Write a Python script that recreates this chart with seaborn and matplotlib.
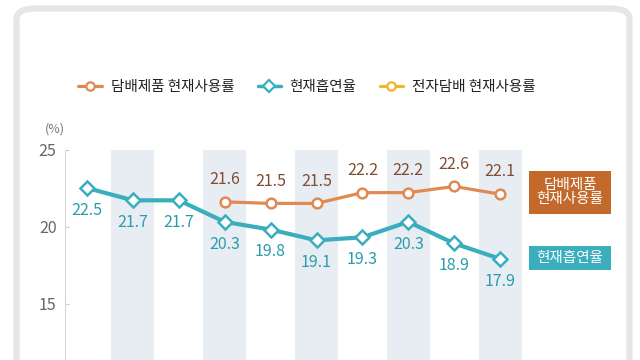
import numpy as np
import pandas as pd
import matplotlib
matplotlib.use("Agg")
import matplotlib.pyplot as plt
import seaborn as sns
from matplotlib.lines import Line2D
from matplotlib.patches import Rectangle, FancyBboxPatch

# --- data ---
years = [2013, 2014, 2015, 2016, 2017, 2018, 2019, 2020, 2021, 2022]
smoking_rate = [22.5, 21.7, 21.7, 20.3, 19.8, 19.1, 19.3, 20.3, 18.9, 17.9]
tobacco_use = [np.nan, np.nan, np.nan, 21.6, 21.5, 21.5, 22.2, 22.2, 22.6, 22.1]
series_names = ["담배제품 현재사용률", "현재흡연율", "전자담배 현재사용률"]
yticks = [15, 20, 25]

ORANGE = "#E08A52"
ORANGE_TXT = "#7E4E33"
ORANGE_BOX = "#C4692C"
TEAL = "#3AAEBD"
TEAL_TXT = "#2A9DAD"
YELLOW = "#EDB62C"
BAND = "#E8ECF3"

df = pd.DataFrame({"year": years, "smoking": smoking_rate, "tobacco": tobacco_use})

sns.set_theme(style="white")
plt.rcParams["font.family"] = ["Liberation Sans Narrow", "Noto Sans CJK KR", "DejaVu Sans"]

fig = plt.figure(figsize=(6.4, 3.6), dpi=100)

# card frame
frame = FancyBboxPatch((16.5 / 640, -0.2), 613 / 640, (360 - 8.5) / 360 + 0.2,
                       boxstyle="round,pad=0,rounding_size=0.03",
                       transform=fig.transFigure, facecolor="white",
                       edgecolor="#E6E6E6", linewidth=4.5, zorder=-5)
fig.patches.append(frame)

spacing = 45.9
x0_px = 87
ax = fig.add_axes([65 / 640, 0, (640 - 65) / 640, 1 - 149.5 / 360])
ax.set_zorder(2)
ax.set_facecolor("none")
ax.set_xlim(years[0] - (x0_px - 65) / spacing, years[0] + (640 - x0_px) / spacing)
ax.set_ylim(25 - (360 - 149.5) / 15.4, 25)

# shaded columns every other year
for i, yr in enumerate(years):
    if i % 2 == 1:
        ax.axvspan(yr - 0.47, yr + 0.47, color=BAND, lw=0, zorder=0)

sns.lineplot(data=df, x="year", y="tobacco", ax=ax, color=ORANGE, lw=2.3,
             marker="o", markersize=7, markerfacecolor="white",
             markeredgecolor=ORANGE, markeredgewidth=1.8, zorder=3)
sns.lineplot(data=df, x="year", y="smoking", ax=ax, color=TEAL, lw=3,
             marker="D", markersize=7, markerfacecolor="white",
             markeredgecolor=TEAL, markeredgewidth=1.8, zorder=4)

for yr, v in zip(years, tobacco_use):
    if not np.isnan(v):
        ax.annotate(f"{v:.1f}", (yr, v), xytext=(0, 16), textcoords="offset points",
                    ha="center", va="center", fontsize=11.5, color=ORANGE_TXT)
for yr, v in zip(years, smoking_rate):
    ax.annotate(f"{v:.1f}", (yr, v), xytext=(0, -16), textcoords="offset points",
                ha="center", va="center", fontsize=11.5, color=TEAL_TXT)

ax.set_xlabel("")
ax.set_ylabel("")
ax.set_xticks([])
ax.set_yticks(yticks)
ax.tick_params(axis="y", direction="in", length=3, width=0.8, color="#CFCFCF",
               labelsize=11.5, labelcolor="#666666", pad=6, left=True)
for s in ["top", "right", "bottom"]:
    ax.spines[s].set_visible(False)
ax.spines["left"].set_color("#D6D6D6")
ax.spines["left"].set_linewidth(0.8)

fig.text(45 / 640, 1 - 129 / 360, "(%)", fontsize=9, color="#777777", va="center")

# right-side series tags
fig.add_artist(Rectangle((529 / 640, 1 - 214 / 360), 82 / 640, 43 / 360,
                         transform=fig.transFigure, color=ORANGE_BOX, lw=0, zorder=3))
fig.text(570 / 640, 1 - 192.5 / 360, "담배제품\n현재사용률", ha="center", va="center",
         color="white", fontsize=10.5, linespacing=1.0, zorder=4)
fig.add_artist(Rectangle((529 / 640, 1 - 270 / 360), 82 / 640, 24 / 360,
                         transform=fig.transFigure, color=TEAL, lw=0, zorder=3))
fig.text(570 / 640, 1 - 258 / 360, "현재흡연율", ha="center", va="center",
         color="white", fontsize=10.5, zorder=4)

handles = [
    Line2D([], [], color=ORANGE, lw=2.3, marker="o", markersize=6,
           markerfacecolor="white", markeredgecolor=ORANGE, markeredgewidth=1.6),
    Line2D([], [], color=TEAL, lw=2.5, marker="D", markersize=6,
           markerfacecolor="white", markeredgecolor=TEAL, markeredgewidth=1.6),
    Line2D([], [], color=YELLOW, lw=2.3, marker="o", markersize=6,
           markerfacecolor="white", markeredgecolor=YELLOW, markeredgewidth=1.6),
]
fig.legend(handles, series_names, loc="center", bbox_to_anchor=(307 / 640, 1 - 87 / 360),
           ncol=3, frameon=False, fontsize=10.5, handlelength=1.6, handletextpad=0.6,
           columnspacing=1.6, labelcolor="#222222")

fig.savefig("out.png", dpi=100)
